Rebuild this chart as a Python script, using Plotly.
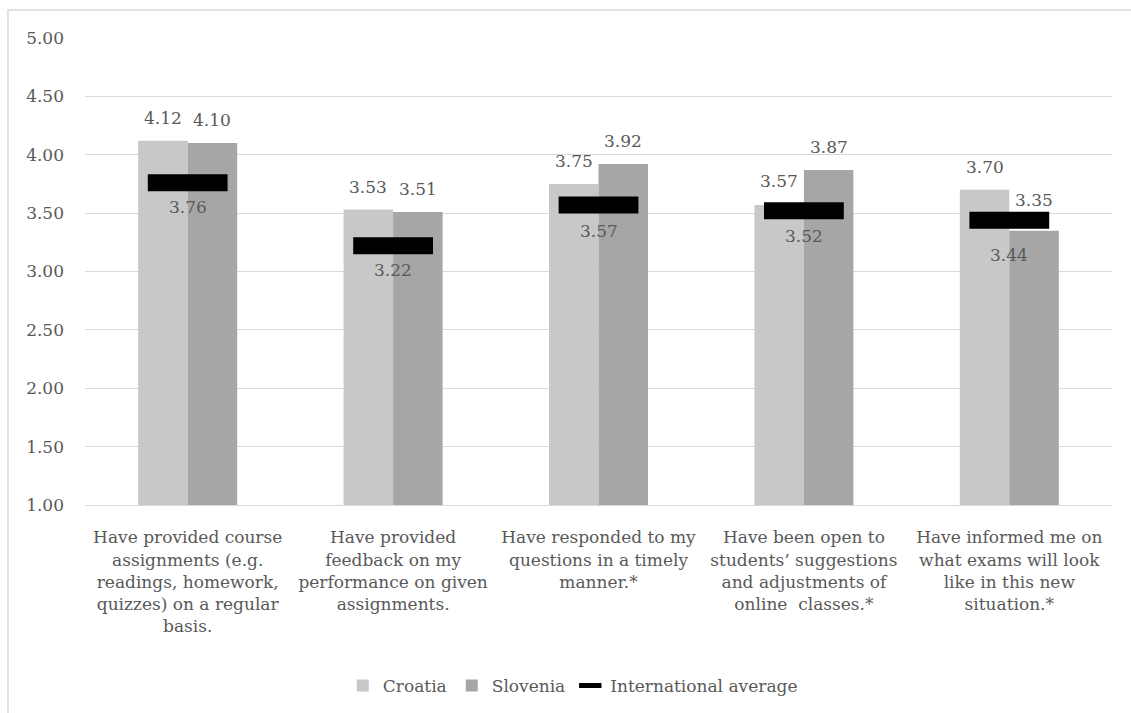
import plotly.graph_objects as go

categories = [
    "Have provided course<br>assignments (e.g.<br>readings, homework,<br>quizzes) on a regular<br>basis.",
    "Have provided<br>feedback on my<br>performance on given<br>assignments.",
    "Have responded to my<br>questions in a timely<br>manner.*",
    "Have been open to<br>students’ suggestions<br>and adjustments of<br>online  classes.*",
    "Have informed me on<br>what exams will look<br>like in this new<br>situation.*",
]
croatia = [4.12, 3.53, 3.75, 3.57, 3.70]
slovenia = [4.10, 3.51, 3.92, 3.87, 3.35]
intl_avg = [3.76, 3.22, 3.57, 3.52, 3.44]
y_ticks = [1.0, 1.5, 2.0, 2.5, 3.0, 3.5, 4.0, 4.5, 5.0]

# label offsets in pixels (style only)
cro_label_shift = [23, 23, 23, 24, 23]
slo_label_shift = [23, 23, 23, 23, 31]
avg_label_shift = [-24, -24, -26, -25, -35]

FONT = "DejaVu Serif"
TXT = "#595959"
FS = 17
BARGAP = 0.518
plot_w = 1131 - 85 - 19
bar_px = plot_w / len(categories) * (1 - BARGAP) / 2

fig = go.Figure()
fig.add_trace(go.Bar(name="Croatia", x=categories, y=croatia,
                     marker=dict(color="#c8c8c8", line=dict(width=0))))
fig.add_trace(go.Bar(name="Slovenia", x=categories, y=slovenia,
                     marker=dict(color="#a6a6a6", line=dict(width=0))))
fig.add_trace(go.Scatter(name="International average", x=categories, y=intl_avg,
                         mode="markers",
                         marker=dict(symbol="line-ew", size=57, color="black",
                                     line=dict(width=17, color="black"))))

annotations = []
for i, c in enumerate(categories):
    annotations.append(dict(x=c, y=croatia[i], text=f"{croatia[i]:.2f}", showarrow=False,
                            xshift=-bar_px / 2, yshift=cro_label_shift[i],
                            font=dict(family=FONT, size=FS, color=TXT)))
    annotations.append(dict(x=c, y=slovenia[i], text=f"{slovenia[i]:.2f}", showarrow=False,
                            xshift=bar_px / 2, yshift=slo_label_shift[i],
                            font=dict(family=FONT, size=FS, color=TXT)))
    annotations.append(dict(x=c, y=intl_avg[i], text=f"{intl_avg[i]:.2f}", showarrow=False,
                            yshift=avg_label_shift[i],
                            font=dict(family=FONT, size=FS, color=TXT)))

fig.update_layout(
    width=1131, height=713,
    margin=dict(l=85, r=19, t=38, b=208, autoexpand=False),
    paper_bgcolor="white", plot_bgcolor="white",
    barmode="group", bargap=BARGAP, bargroupgap=0,
    font=dict(family=FONT, size=FS, color=TXT),
    showlegend=True,
    legend=dict(orientation="h", x=0.475, xanchor="center", y=-0.3876, yanchor="middle",
                font=dict(family=FONT, size=FS, color=TXT), traceorder="normal",
                itemwidth=30),
    annotations=annotations,
    shapes=[dict(type="rect", xref="paper", yref="paper", x0=-0.075, x1=1.2,
                 y0=-1.0, y1=1.06, line=dict(color="#d9d9d9", width=1.5),
                 fillcolor="rgba(0,0,0,0)", layer="below")],
)
fig.update_xaxes(showgrid=False, showline=True, linecolor="#d9d9d9", linewidth=1,
                 ticks="", tickfont=dict(family=FONT, size=FS, color=TXT),
                 ticklabelstandoff=17, automargin=False)
fig.update_yaxes(range=[1, 5], tickvals=y_ticks, tickformat=".2f",
                 showgrid=True, gridcolor="#d9d9d9", gridwidth=1, zeroline=False,
                 showline=False, ticks="", ticklabelstandoff=20, automargin=False,
                 tickfont=dict(family=FONT, size=FS, color=TXT))

fig.write_html("out.html", config={"displayModeBar": False},
               post_script="document.body.style.margin='0';document.body.style.overflow='hidden';")
